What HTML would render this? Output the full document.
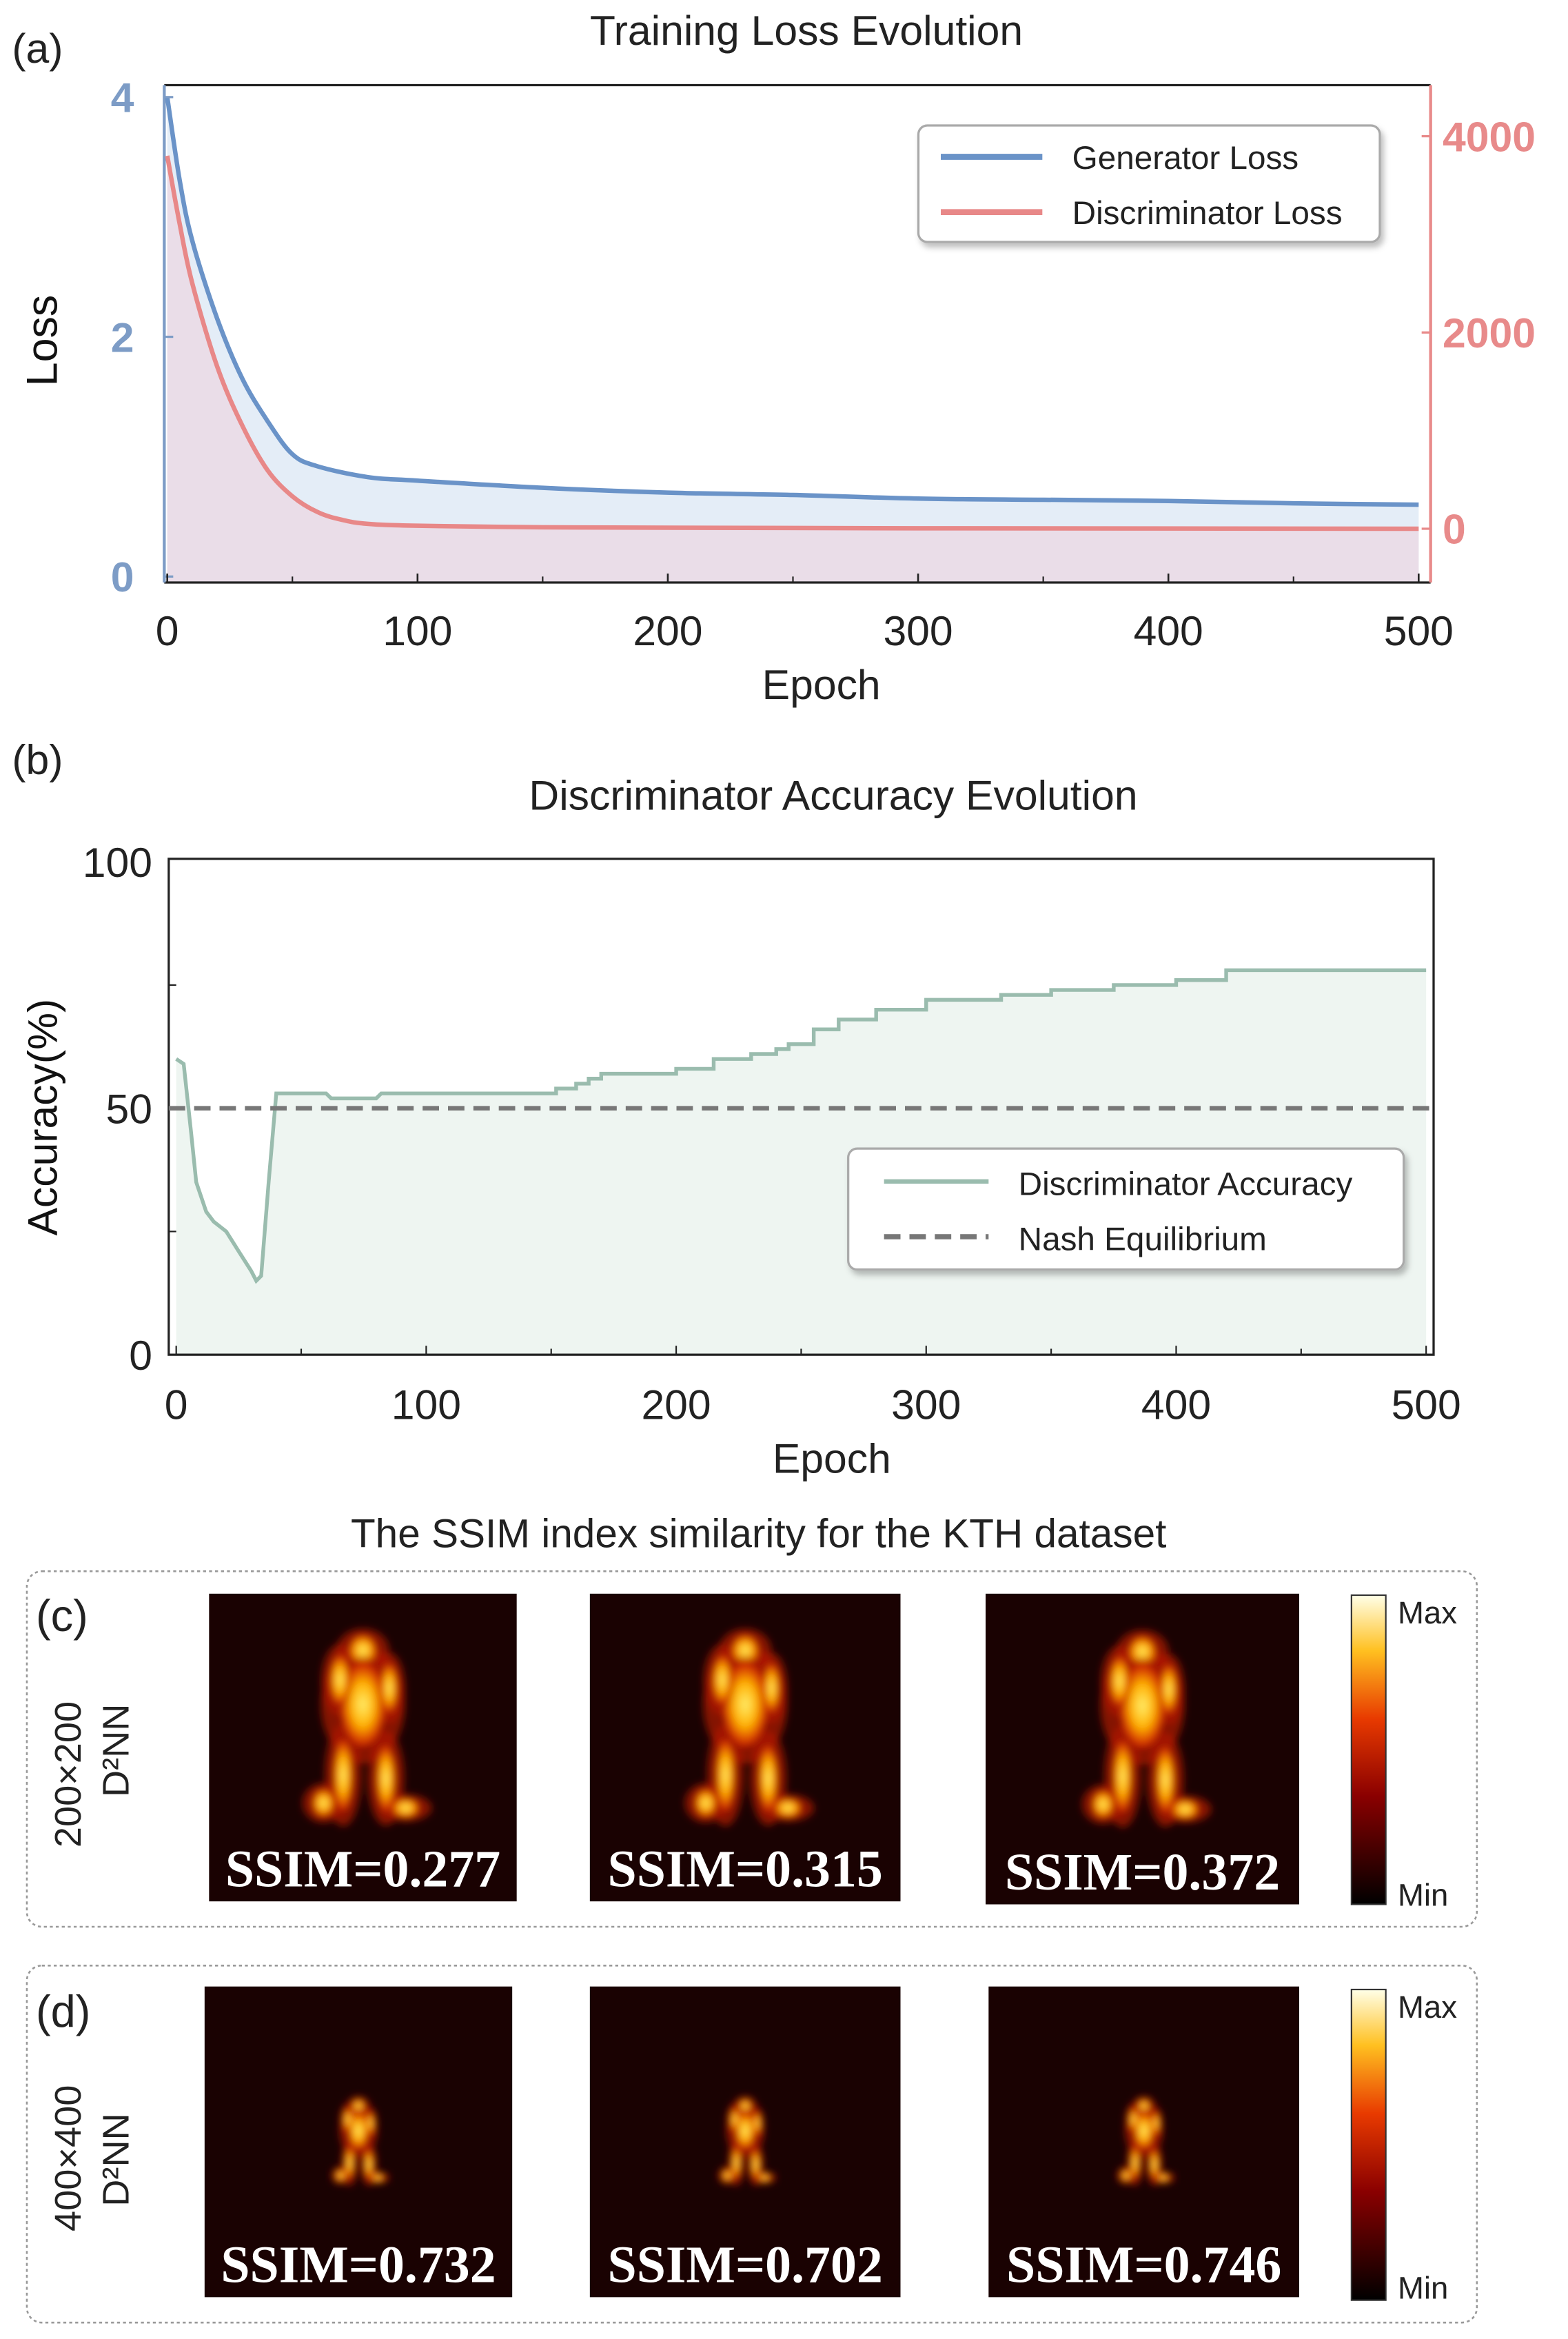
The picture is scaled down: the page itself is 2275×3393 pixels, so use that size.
<!DOCTYPE html>
<html><head><meta charset="utf-8"><style>
html,body{margin:0;padding:0;background:#fff;}
svg{display:block;font-family:"Liberation Sans","DejaVu Sans",sans-serif;}
.ssim{font-family:"Liberation Serif",serif;font-weight:bold;fill:#fff;font-size:35px;}
</style></head><body>
<svg id="fig" width="2275" height="3393" viewBox="0 0 1050 1566" xmlns="http://www.w3.org/2000/svg">
<defs>
<linearGradient id="cbar" x1="0" y1="1" x2="0" y2="0">
<stop offset="0" stop-color="#000"/><stop offset="0.35" stop-color="#8a0000"/><stop offset="0.6" stop-color="#e83a00"/><stop offset="0.82" stop-color="#ffc020"/><stop offset="1" stop-color="#ffffe8"/></linearGradient>
<radialGradient id="hot"><stop offset="0" stop-color="#fff070"/><stop offset="0.45" stop-color="#ffb000"/><stop offset="0.8" stop-color="#d02800"/><stop offset="1" stop-color="#600000" stop-opacity="0"/></radialGradient>
<filter id="blur"><feGaussianBlur stdDeviation="2.5"/></filter>
<filter id="shadow" x="-10%" y="-20%" width="130%" height="150%"><feDropShadow dx="2" dy="3" stdDeviation="2" flood-color="#000" flood-opacity="0.25"/></filter>
</defs>

<!-- Panel a -->
<text x="8" y="42" font-size="28" fill="#222">(a)</text>
<text x="540" y="30" font-size="28" text-anchor="middle" fill="#222">Training Loss Evolution</text>
<g id="chartA"></g>
<text x="38" y="228" font-size="29" text-anchor="middle" transform="rotate(-90 38 228)" fill="#111">Loss</text>
<text x="550" y="468" font-size="28" text-anchor="middle" fill="#222">Epoch</text>
<g>
<rect x="615" y="84" width="309" height="78" rx="6" fill="#fff" stroke="#aaa" stroke-width="1.5" filter="url(#shadow)"/>
<line x1="630" y1="105" x2="698" y2="105" stroke="#6a93c8" stroke-width="4"/>
<text x="718" y="113" font-size="22" fill="#222">Generator Loss</text>
<line x1="630" y1="142" x2="698" y2="142" stroke="#e88888" stroke-width="4"/>
<text x="718" y="150" font-size="22" fill="#222">Discriminator Loss</text>
</g>

<!-- Panel b -->
<text x="8" y="518" font-size="28" fill="#222">(b)</text>
<text x="558" y="542" font-size="28" text-anchor="middle" fill="#222">Discriminator Accuracy Evolution</text>
<g id="chartB"></g>
<text x="38" y="748" font-size="28" text-anchor="middle" transform="rotate(-90 38 748)" fill="#111">Accuracy(%)</text>
<text x="557" y="986" font-size="28" text-anchor="middle" fill="#222">Epoch</text>
<g>
<rect x="568" y="769" width="372" height="81" rx="6" fill="#fff" stroke="#aaa" stroke-width="1.5" filter="url(#shadow)"/>
<line x1="592" y1="791" x2="662" y2="791" stroke="#9abcae" stroke-width="3"/>
<text x="682" y="800" font-size="22" fill="#222">Discriminator Accuracy</text>
<line x1="592" y1="828" x2="662" y2="828" stroke="#777" stroke-width="3.5" stroke-dasharray="11,6"/>
<text x="682" y="837" font-size="22" fill="#222">Nash Equilibrium</text>
</g>

<!-- Panel c/d -->
<text x="508" y="1036" font-size="27" text-anchor="middle" fill="#222">The SSIM index similarity for the KTH dataset</text>
<rect x="18" y="1052" width="971" height="238" rx="10" fill="none" stroke="#999" stroke-width="1.2" stroke-dasharray="2,2"/>
<rect x="18" y="1316" width="971" height="239" rx="10" fill="none" stroke="#999" stroke-width="1.2" stroke-dasharray="2,2"/>
<text x="24" y="1092" font-size="30" fill="#222">(c)</text>
<text x="24" y="1357" font-size="30" fill="#222">(d)</text>
<text x="54" y="1188" font-size="25" text-anchor="middle" transform="rotate(-90 54 1188)" fill="#222">200×200</text>
<text x="86" y="1172" font-size="25" text-anchor="middle" transform="rotate(-90 86 1172)" fill="#222">D²NN</text>
<text x="54" y="1445" font-size="25" text-anchor="middle" transform="rotate(-90 54 1445)" fill="#222">400×400</text>
<text x="86" y="1446" font-size="25" text-anchor="middle" transform="rotate(-90 86 1446)" fill="#222">D²NN</text>
<g id="imgs"></g>
<g>
<rect x="905" y="1068" width="23" height="207" fill="url(#cbar)" stroke="#333" stroke-width="1"/>
<text x="936" y="1087" font-size="21" fill="#222">Max</text><text x="936" y="1276" font-size="21" fill="#222">Min</text></g>
<g>
<rect x="905" y="1332" width="23" height="208" fill="url(#cbar)" stroke="#333" stroke-width="1"/>
<text x="936" y="1351" font-size="21" fill="#222">Max</text><text x="936" y="1539" font-size="21" fill="#222">Min</text></g>
</svg>
<script>
const NS="http://www.w3.org/2000/svg";
const lossEpochs=[0,5,10,20,30,40,50,60,80,100,150,200,250,300,350,400,450,500];
const genLoss=[4.0,3.3,2.8,2.15,1.65,1.3,1.02,0.92,0.83,0.8,0.74,0.7,0.68,0.65,0.64,0.63,0.61,0.6];
const discEpochs=[0,5,10,20,30,40,50,60,70,80,100,150,200,300,500];
const discLoss=[3800,3100,2500,1650,1050,600,330,170,90,50,30,15,10,5,0];
const leftTicks=[0,2,4];
const rightTicks=[0,2000,4000];
const xTicks=[0,100,200,300,400,500];
const accEpochs=[0,3,6,8,12,15,20,25,30,32,34,37,40,42,60,62,80,82,150,152,160,165,170,190,200,215,230,240,245,255,265,280,300,330,350,375,400,420,500];
const accValues=[60,59,45,35,29,27,25,21,17,15,16,35,53,53,53,52,52,53,53,54,55,56,57,57,58,60,61,62,63,66,68,70,72,73,74,75,76,78,78];
const accTicks=[0,50,100];
const nashLevel=50;
const ssimC=["SSIM=0.277","SSIM=0.315","SSIM=0.372"];
const ssimD=["SSIM=0.732","SSIM=0.702","SSIM=0.746"];

function mk(tag,attrs,parent){const e=document.createElementNS(NS,tag);for(const k in attrs)e.setAttribute(k,attrs[k]);parent.appendChild(e);return e;}
function smooth(xs,ys,fx,fy){
  const p=xs.map((x,i)=>[fx(x),fy(ys[i])]);
  let d='M'+p[0][0].toFixed(1)+','+p[0][1].toFixed(1);
  for(let i=0;i<p.length-1;i++){
    const p0=p[Math.max(0,i-1)],p1=p[i],p2=p[i+1],p3=p[Math.min(p.length-1,i+2)];
    const c1=[p1[0]+(p2[0]-p0[0])/6,p1[1]+(p2[1]-p0[1])/6];
    const c2=[p2[0]-(p3[0]-p1[0])/6,p2[1]-(p3[1]-p1[1])/6];
    d+='C'+c1.map(v=>v.toFixed(1))+' '+c2.map(v=>v.toFixed(1))+' '+p2.map(v=>v.toFixed(1));
  }
  return d;
}
function stepPath(xs,ys,fx,fy){
  let d='';
  xs.forEach((x,i)=>{
    if(i===0){d+='M'+fx(x).toFixed(1)+','+fy(ys[i]).toFixed(1);return;}
    if(x>=150&&i>0&&xs[i-1]>=150){d+='L'+fx(x).toFixed(1)+','+fy(ys[i-1]).toFixed(1);}
    d+='L'+fx(x).toFixed(1)+','+fy(ys[i]).toFixed(1);
  });
  return d;
}

// Chart A
const A=document.getElementById('chartA');
const ax=e=>112+e*1.676, ayL=v=>386-v*80.25, ayR=v=>354-v*0.0657;
const gp=smooth(lossEpochs,genLoss,ax,ayL), dp=smooth(discEpochs,discLoss,ax,ayR);
let f=mk('path',{d:gp+'L'+ax(500)+',390L'+ax(0)+',390Z',fill:'#e4edf7'},A);

f=mk('path',{d:dp+'L'+ax(500)+',390L'+ax(0)+',390Z',fill:'#eadde8'},A);

mk('line',{x1:110,y1:57,x2:958,y2:57,stroke:'#222','stroke-width':1.5},A);
mk('line',{x1:110,y1:390,x2:958,y2:390,stroke:'#222','stroke-width':1.5},A);
mk('line',{x1:110,y1:57,x2:110,y2:390,stroke:'#7d9cc6','stroke-width':2},A);
mk('line',{x1:958,y1:57,x2:958,y2:390,stroke:'#e88a8a','stroke-width':2},A);
let l=mk('path',{d:gp,fill:'none',stroke:'#6a93c8','stroke-width':3},A);

l=mk('path',{d:dp,fill:'none',stroke:'#e88888','stroke-width':3},A);

leftTicks.forEach(v=>{const t=mk('text',{x:82,y:ayL(v)+10,'font-size':28,'text-anchor':'middle',fill:'#7d9cc6','font-weight':'bold'},A);t.textContent=v;

mk('line',{x1:110,y1:ayL(v),x2:116,y2:ayL(v),stroke:'#7d9cc6','stroke-width':1.5},A);});
rightTicks.forEach(v=>{const t=mk('text',{x:966,y:ayR(v)+10,'font-size':28,fill:'#e88a8a','font-weight':'bold'},A);t.textContent=v;

mk('line',{x1:952,y1:ayR(v),x2:958,y2:ayR(v),stroke:'#e88a8a','stroke-width':1.5},A);});
xTicks.forEach(v=>{const t=mk('text',{x:ax(v),y:432,'font-size':28,'text-anchor':'middle',fill:'#222'},A);t.textContent=v;

mk('line',{x1:ax(v),y1:390,x2:ax(v),y2:384,stroke:'#222','stroke-width':1.2},A);
if(v<500)mk('line',{x1:ax(v+50),y1:390,x2:ax(v+50),y2:386,stroke:'#222','stroke-width':1},A);});

// Chart B
const B=document.getElementById('chartB');
const bx=e=>118+e*1.674, by=v=>907-v*3.3;
const ap=stepPath(accEpochs,accValues,bx,by);
f=mk('path',{d:ap+'L'+bx(500)+',907L'+bx(0)+',907Z',fill:'#eef5f1'},B);

mk('rect',{x:113,y:575,width:847,height:332,fill:'none',stroke:'#222','stroke-width':1.5},B);
l=mk('path',{d:ap,fill:'none',stroke:'#9abcae','stroke-width':2.5},B);

l=mk('line',{x1:113,y1:by(nashLevel),x2:960,y2:by(nashLevel),stroke:'#777','stroke-width':3,'stroke-dasharray':'11,6'},B);

accTicks.forEach(v=>{const t=mk('text',{x:102,y:by(v)+10,'font-size':28,'text-anchor':'end',fill:'#222'},B);t.textContent=v;

if(v<100)mk('line',{x1:113,y1:by(v+25),x2:118,y2:by(v+25),stroke:'#222'},B);});
xTicks.forEach(v=>{const t=mk('text',{x:bx(v),y:950,'font-size':28,'text-anchor':'middle',fill:'#222'},B);t.textContent=v;

mk('line',{x1:bx(v),y1:907,x2:bx(v),y2:901,stroke:'#222'},B);
if(v<500)mk('line',{x1:bx(v+50),y1:907,x2:bx(v+50),y2:903,stroke:'#222'},B);});

// Heatmap images
const G=document.getElementById('imgs');
const boxesC=[[140,1067,206,206],[395,1067,208,206],[660,1067,210,208]];
const boxesD=[[137,1330,206,208],[395,1330,208,208],[662,1330,208,208]];
function figure(g,cx,cy,s){
  const parts=[[0,-48,10,11],[0,-15,16,30],[-14,-30,7,18],[16,-25,6,18],[-12,28,7,26],[14,30,7,24],[-24,45,8,10],[26,48,10,7]];
  const r=mk('g',{filter:'url(#blur)'},g);
  parts.forEach(p=>mk('ellipse',{cx:cx+p[0]*s,cy:cy+p[1]*s,rx:p[2]*s*1.6,ry:p[3]*s*1.2,fill:'#b01800',opacity:0.7},r));
  parts.forEach(p=>mk('ellipse',{cx:cx+p[0]*s,cy:cy+p[1]*s,rx:p[2]*s,ry:p[3]*s,fill:'url(#hot)'},r));
}
function drawRow(boxes,labels,scale,row){
  boxes.forEach((b,i)=>{
    const g=mk('g',{},G);
    
    
    mk('rect',{x:b[0],y:b[1],width:b[2],height:b[3],fill:'#1a0202'},g);
    figure(g,b[0]+b[2]/2,b[1]+b[3]*(scale>0.8?0.44:0.5),scale);
    const t=mk('text',{x:b[0]+b[2]/2,y:b[1]+b[3]-10,'text-anchor':'middle',class:'ssim'},g);
    t.textContent=labels[i];
  });
}
drawRow(boxesC,ssimC,1.1,'c');
drawRow(boxesD,ssimD,0.5,'d');
</script>
</body></html>
